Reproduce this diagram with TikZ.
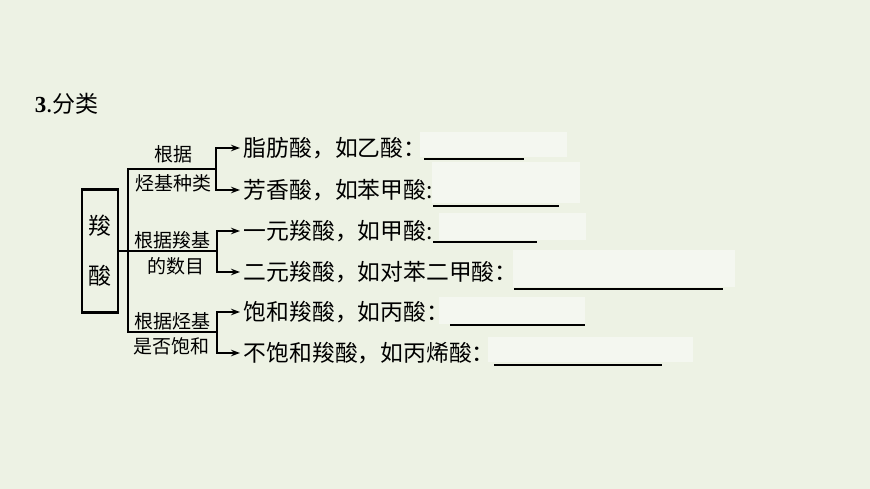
\documentclass[tikz,border=0pt]{standalone}
\usepackage{fontspec}
\setmainfont{Noto Sans CJK SC}
\newfontfamily\numfont{Liberation Serif}
\usepackage{tikz}
\usetikzlibrary{arrows.meta}
\definecolor{paper}{RGB}{237,242,228}
\definecolor{blankbg}{RGB}{244,247,240}

\begin{document}
\begin{tikzpicture}[x=1pt, y=-1pt, line width=1.8pt,
    arr/.style={-{Stealth[length=9pt, width=6.5pt]}},
    row/.style={anchor=west, inner xsep=3pt, inner ysep=0pt, font=\fontsize{22.8}{22.8}\selectfont},
    lab/.style={inner sep=0pt, font=\fontsize{19}{19}\selectfont}]

      % page
      \fill[paper] (0,0) rectangle (870,489);
      \useasboundingbox (0,0) rectangle (870,489);

      % title
      \node[anchor=west, inner sep=0pt, font=\fontsize{23}{23}\selectfont] (title) at (34,104) {{\numfont\bfseries 3}.分类};

      % answer blanks
      \foreach \xa/\ya/\xb/\yb/\ua/\ub/\uy in {
          420/132/567/157/424/524/159,
          432/162/580/203/433/559/206,
          439/213/586/240/433/537/242,
          513/250/735/287/514/723/289,
          439/297/585/324/450/585/325,
          488/337/693/362/494/662/365
        } {
          \fill[blankbg] (\xa,\ya) rectangle (\xb,\yb);
          \draw[line width=1.6pt] (\ua,\uy) -- (\ub,\uy);
        }

      % classes
      \foreach \t/\y [count=\n] in {
          脂肪酸，如乙酸：/148, 芳香酸，如苯甲酸:/190, 一元羧酸，如甲酸:/231,
          二元羧酸，如对苯二甲酸：/272, 饱和羧酸，如丙酸：/312, 不饱和羧酸，如丙烯酸：/353
        } {
          \node[row] (r\n) at (240,\y) {\t};
        }

      % root
      \node[draw, line width=2.4pt, minimum width=36pt, minimum height=123pt, align=center,
        font=\fontsize{23}{50}\selectfont] (acid) at (100,251) {羧\\酸};

      \coordinate (m1) at (128,169);
      \coordinate (m3) at (128,332);
      \coordinate (k1) at (216,169);
      \coordinate (k2) at (217,251);
      \coordinate (k3) at (217,332);

      \draw (acid) -- (k2);
      \draw (k1) -- (m1) -- (m3) -- (k3);
      \foreach \k/\a/\b in {k1/r1/r2, k2/r3/r4, k3/r5/r6} {
        \draw[arr] (\k) |- (\a);
        \draw[arr] (\k) |- (\b);
      }

      % criteria
      \node[lab] (c1a) at (173,154) {根据};
      \node[lab] (c1b) at (173,183) {烃基种类};
      \node[lab] (c2a) at (172,240) {根据羧基};
      \node[lab] (c2b) at (176,266) {的数目};
      \node[lab] (c3a) at (172,321) {根据烃基};
      \node[lab] (c3b) at (171,346) {是否饱和};

    \end{tikzpicture}
\end{document}
